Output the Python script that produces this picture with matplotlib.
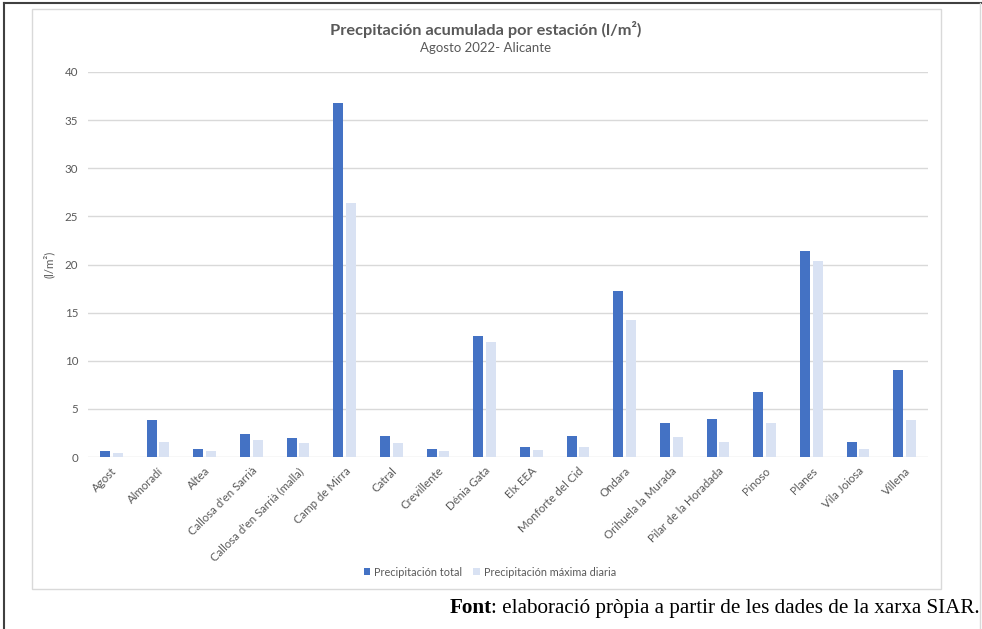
import numpy as np
import matplotlib.pyplot as plt
from matplotlib.patches import Rectangle
from matplotlib.lines import Line2D

# Datos
estaciones = ['Agost', 'Almoradí', 'Altea', "Callosa d'en Sarrià",
              "Callosa d'en Sarrià (malla)", 'Camp de Mirra', 'Catral',
              'Crevillente', 'Dénia Gata', 'Elx EEA', 'Monforte del Cid',
              'Ondara', 'Orihuela la Murada', 'Pilar de la Horadada',
              'Pinoso', 'Planes', 'Vila Joiosa', 'Villena']
prec_total = [0.6, 3.8, 0.8, 2.4, 2.0, 36.8, 2.2, 0.8, 12.6, 1.0, 2.2,
              17.2, 3.5, 3.9, 6.8, 21.4, 1.6, 9.0]
prec_max = [0.4, 1.6, 0.6, 1.8, 1.5, 26.4, 1.5, 0.6, 12.0, 0.7, 1.0,
            14.2, 2.1, 1.6, 3.5, 20.4, 0.8, 3.8]
yticks = [0, 5, 10, 15, 20, 25, 30, 35, 40]

plt.rcParams['font.family'] = ['Lato', 'DejaVu Sans']
W, H = 982, 629
fig = plt.figure(figsize=(W / 100, H / 100), dpi=100)

# marco exterior y marco del gráfico
fig.add_artist(Line2D([4 / W, 4 / W], [0, 1 - 3 / H], color='#404040', lw=1.5))
fig.add_artist(Line2D([4 / W, 1], [1 - 3 / H, 1 - 3 / H], color='#404040', lw=1.5))
fig.add_artist(Line2D([980 / W, 980 / W], [0, 1 - 3 / H], color='#D9D9D9', lw=1))
fig.add_artist(Rectangle((32 / W, 1 - 589 / H), (941 - 32) / W, (589 - 9) / H,
                         fill=False, edgecolor='#D9D9D9', lw=1))

ax = fig.add_axes([88 / W, 1 - 457 / H, (928 - 88) / W, (457 - 72) / H])
x = np.arange(len(estaciones))
w = 0.215
ax.bar(x - 0.135, prec_total, w, color='#4472C4', label='Precipitación total', zorder=3)
ax.bar(x + 0.135, prec_max, w, color='#D9E2F3', label='Precipitación máxima diaria', zorder=3)

ax.set_xlim(-0.5, len(estaciones) - 0.5)
ax.set_ylim(0, 40)
ax.set_yticks(yticks)
ax.yaxis.grid(True, color='#D9D9D9', lw=1)
ax.set_axisbelow(True)
for s in ax.spines.values():
    s.set_visible(False)
ax.tick_params(length=0, labelsize=8.3, labelcolor='#595959')
ax.tick_params(axis='y', pad=7)
ax.set_xticks(x)
ax.set_xticklabels(estaciones, rotation=45, ha='right', rotation_mode='anchor')
ax.tick_params(axis='x', pad=6)
ax.set_ylabel('(l/m²)', fontsize=8.3, color='#595959')
ax.yaxis.set_label_coords((55 - 88) / 840, 0.5)

fig.text(486 / W, 1 - 30 / H, 'Precpitación acumulada por estación (l/m²)',
         ha='center', va='center', fontsize=11.8, fontweight='bold', color='#595959')
fig.text(486 / W, 1 - 48 / H, 'Agosto 2022- Alicante', ha='center', va='center',
         fontsize=9.5, color='#595959')

ax.legend(loc='center', bbox_to_anchor=(490 / W, 1 - 572 / H), bbox_transform=fig.transFigure,
          ncol=2, frameon=False, fontsize=7.8, labelcolor='#595959',
          handlelength=0.6, handleheight=0.6, handletextpad=0.4, columnspacing=1.0)

# nota de fuente: "Font" en negrita y el resto normal
nota = fig.text(980 / W, 1 - 608 / H, ': elaboració pròpia a partir de les dades de la xarxa SIAR.',
                ha='right', va='center', fontsize=15.2, family='Liberation Serif')
fig.canvas.draw()
bb = nota.get_window_extent()
fig.text(bb.x0 / W, 1 - 608 / H, 'Font', ha='right', va='center', fontsize=15.2,
         family='Liberation Serif', fontweight='bold')

fig.savefig('out.png', dpi=100)
